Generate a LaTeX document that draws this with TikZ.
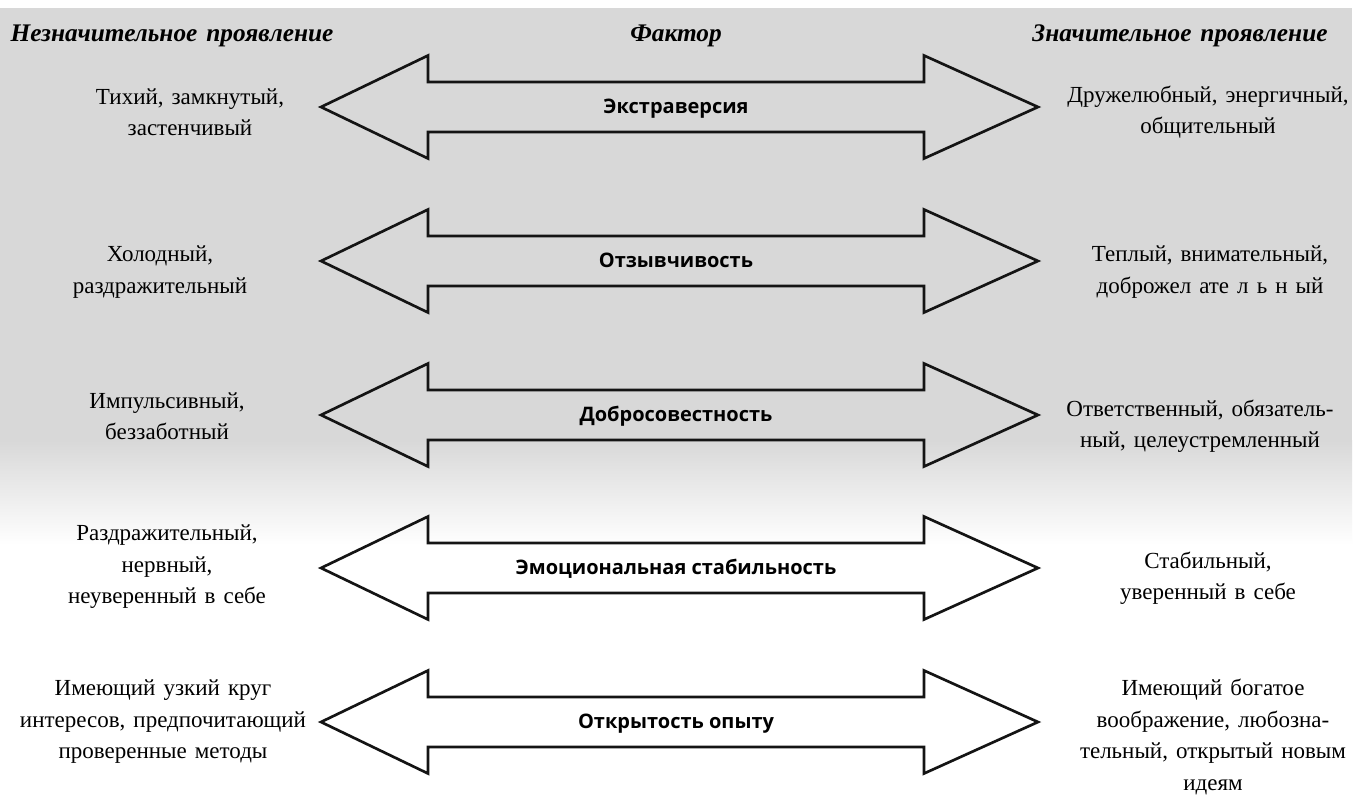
\documentclass[tikz,border=0pt]{standalone}
\usepackage{fontspec}
\setmainfont{Liberation Serif}[WordSpace={1.4,1.4,1}]
\newfontfamily\factorfont{Open Sans}
\definecolor{scan}{RGB}{216,216,216}
\tikzset{
  x=0.75pt, y=-0.75pt,
  arr/.style={draw=black!92, line width=2pt, line join=miter},
  side/.style={align=center, font=\fontsize{17.25pt}{23.6pt}\selectfont, inner sep=0pt},
  head/.style={font=\fontsize{19pt}{22pt}\selectfont\bfseries\itshape, inner sep=0pt},
  factor/.style={anchor=base, font=\factorfont\fontsize{15pt}{18pt}\selectfont\bfseries, inner sep=0pt}
}
\newcommand\bigarrow[1]{%
  \draw[arr] (321,#1) -- (428,#1-51.5) -- (428,#1-25) -- (924,#1-25) -- (924,#1-51.5)
    -- (1038,#1) -- (924,#1+51.5) -- (924,#1+25) -- (428,#1+25) -- (428,#1+51.5) -- cycle;}
\begin{document}
\begin{tikzpicture}
\useasboundingbox (0,0) rectangle (1363,796);
\fill[white] (0,0) rectangle (1363,796);
\fill[scan] (0,8) rectangle (1352,440);
\shade[top color=scan, bottom color=white] (0,440) rectangle (1352,545);

% headers
\node[head] (hl) at (172,36) {Незначительное проявление};
\node[head] (hc) at (676,36) {Фактор};
\node[head] (hr) at (1180,36) {Значительное проявление};

% arrows
\bigarrow{107}
\bigarrow{261}
\bigarrow{415}
\bigarrow{568}
\bigarrow{722}

% factor labels
\node[factor] (f1) at (676,113) {Экстраверсия};
\node[factor] (f2) at (676,267) {Отзывчивость};
\node[factor] (f3) at (676,421) {Добросовестность};
\node[factor] (f4) at (676,574) {Эмоциональная стабильность};
\node[factor] (f5) at (676,728) {Открытость опыту};

% left descriptions
\node[side] (l1) at (190,112) {Тихий, замкнутый,\\застенчивый};
\node[side] (l2) at (160,272) {Холодный,\\раздражительный};
\node[side] (l3) at (167,416) {Импульсивный,\\беззаботный};
\node[side] (l4) at (167,567) {Раздражительный,\\нервный,\\неуверенный в себе};
\node[side] (l5) at (163,722) {Имеющий узкий круг\\интересов, предпочитающий\\проверенные методы};

% right descriptions
\node[side] (r1) at (1208,112) {Дружелюбный, энергичный,\\общительный};
\node[side] (r2) at (1210,272) {Теплый, внимательный,\\доброжел ате л ь н ый};
\node[side] (r3) at (1200,426) {Ответственный, обязатель-\\ный, целеустремленный};
\node[side] (r4) at (1208,578) {Стабильный,\\уверенный в себе};
\node[side] (r5) at (1213,737) {Имеющий богатое\\воображение, любозна-\\тельный, открытый новым\\идеям};
\end{tikzpicture}
\end{document}
